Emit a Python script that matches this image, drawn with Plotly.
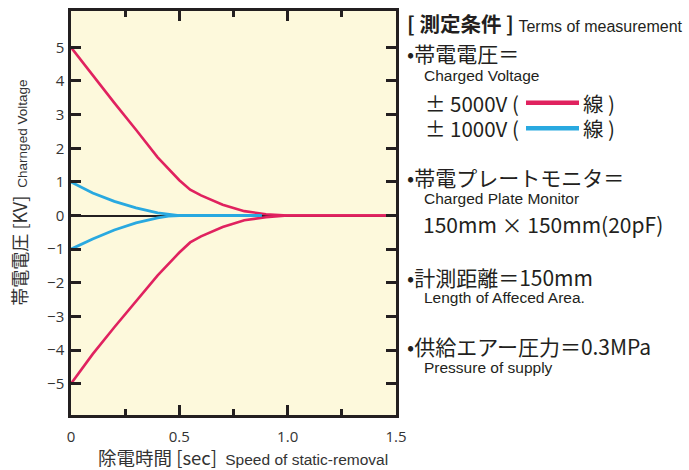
import plotly.graph_objects as go

# ---------------- data ----------------
time_red = [0, 0.1, 0.2, 0.3, 0.4, 0.5, 0.55, 0.6, 0.65, 0.7, 0.8, 0.9, 1.0, 1.5]
v5000_pos = [5.0, 4.17, 3.35, 2.55, 1.73, 1.05, 0.77, 0.6, 0.45, 0.32, 0.13, 0.04, 0.0, 0.0]
v5000_neg = [-5.0, -4.12, -3.32, -2.55, -1.78, -1.1, -0.8, -0.62, -0.47, -0.34, -0.14, -0.05, 0.0, 0.0]

time_blue = [0, 0.1, 0.2, 0.3, 0.4, 0.45, 0.5, 0.88]
v1000_pos = [1.0, 0.67, 0.42, 0.23, 0.08, 0.03, 0.0, 0.0]
v1000_neg = [-1.0, -0.7, -0.43, -0.22, -0.07, -0.02, 0.0, 0.0]

x_tickvals = [0, 0.5, 1.0, 1.5]
x_ticktext = ["0", "0.5", "1.0", "1.5"]
y_tickvals = [-5, -4, -3, -2, -1, 0, 1, 2, 3, 4, 5]
y_ticktext = ["−5", "−4", "−3", "−2", "−1", "0", "1", "2", "3", "4", "5"]

RED = "#e0225f"
BLUE = "#29a9e0"
INK = "#231f20"
TXT = "#333333"
BG = "#fdf9dc"

W, H = 689, 470
L, R, T, B = 71, 396, 8, 415  # plot area pixels

def px(x):
    return (x - L) / (R - L)

def py(y):
    return (B - y) / (B - T)

fig = go.Figure()
for y in (v5000_pos, v5000_neg):
    fig.add_trace(go.Scatter(x=time_red, y=y, mode="lines",
                             line=dict(color=RED, width=2.6), hoverinfo="skip"))
for y in (v1000_pos, v1000_neg):
    fig.add_trace(go.Scatter(x=time_blue, y=y, mode="lines",
                             line=dict(color=BLUE, width=2.8), hoverinfo="skip"))

JP = "Noto Sans CJK JP"
EN = "Liberation Sans"

annotations = []

def ann(text, x, y, size, family=JP, xanchor="left", color=INK, angle=0):
    annotations.append(dict(text=text, x=px(x), y=py(y), xref="paper", yref="paper",
                            xanchor=xanchor, yanchor="middle", showarrow=False,
                            textangle=angle,
                            font=dict(size=size, family=family, color=color)))

# axis titles
ann('帯電電圧 [KV]  <span style="font-family:Liberation Sans;font-size:13.5px">Charnged Voltage</span>',
    19, 191, 18, xanchor="center", color=TXT, angle=-90)
ann('除電時間 [sec]  <span style="font-family:Liberation Sans;font-size:15.5px">Speed of static-removal</span>',
    243, 457, 18.5, xanchor="center", color=TXT)

# right-hand conditions panel
ann('<b>[ 測定条件 ]</b> <span style="font-family:Liberation Sans;font-size:16px">Terms of measurement</span>',
    405, 20, 20.5)
ann('•帯電電圧＝', 405, 50, 21)
ann('Charged Voltage', 422, 73, 15.5, family=EN)
ann('± 5000V (', 423, 101, 20.5)
ann('線 )', 581, 101, 20.5)
ann('± 1000V (', 423, 126, 20.5)
ann('線 )', 581, 126, 20.5)
ann('•帯電プレートモニタ＝', 405, 175, 21)
ann('Charged Plate Monitor', 422, 197, 15.5, family=EN)
ann('150mm × 150mm(20pF)', 421, 223, 21)
ann('•計測距離＝150mm', 405, 276, 21)
ann('Length of Affeced Area.', 422, 297, 15.5, family=EN)
ann('•供給エアー圧力＝0.3MPa', 405, 345, 21)
ann('Pressure of supply', 422, 367, 15.5, family=EN)

shapes = [
    dict(type="line", xref="paper", yref="paper", x0=px(526), x1=px(579), y0=py(100.5), y1=py(100.5),
         line=dict(color=RED, width=4.5)),
    dict(type="line", xref="paper", yref="paper", x0=px(526), x1=px(579), y0=py(126), y1=py(126),
         line=dict(color=BLUE, width=4.5)),
]

axis_common = dict(showgrid=False, showline=True, linecolor=INK, linewidth=2.5,
                   mirror="ticks", ticks="inside", ticklen=10.5, tickwidth=2.5, tickcolor=INK,
                   tickfont=dict(size=15, family="Open Sans", color=TXT))

fig.update_layout(
    width=W, height=H,
    margin=dict(l=L, r=W - R, t=T, b=H - B),
    paper_bgcolor="white", plot_bgcolor=BG,
    showlegend=False,
    xaxis=dict(range=[0, 1.5], tickvals=x_tickvals, ticktext=x_ticktext, zeroline=False,
               ticklabelstandoff=6,
               minor=dict(dtick=0.25, tick0=0, ticks="inside", ticklen=6.5, tickwidth=2.5, tickcolor=INK),
               **axis_common),
    yaxis=dict(range=[-5.93, 6.08], tickvals=y_tickvals, ticktext=y_ticktext,
               zeroline=True, zerolinecolor=INK, zerolinewidth=1.5, ticklabelstandoff=1,
               **axis_common),
    annotations=annotations,
    shapes=shapes,
)

fig.write_html("out.html", config={"displayModeBar": False},
               post_script="document.body.style.margin='0';document.body.style.overflow='hidden';")
